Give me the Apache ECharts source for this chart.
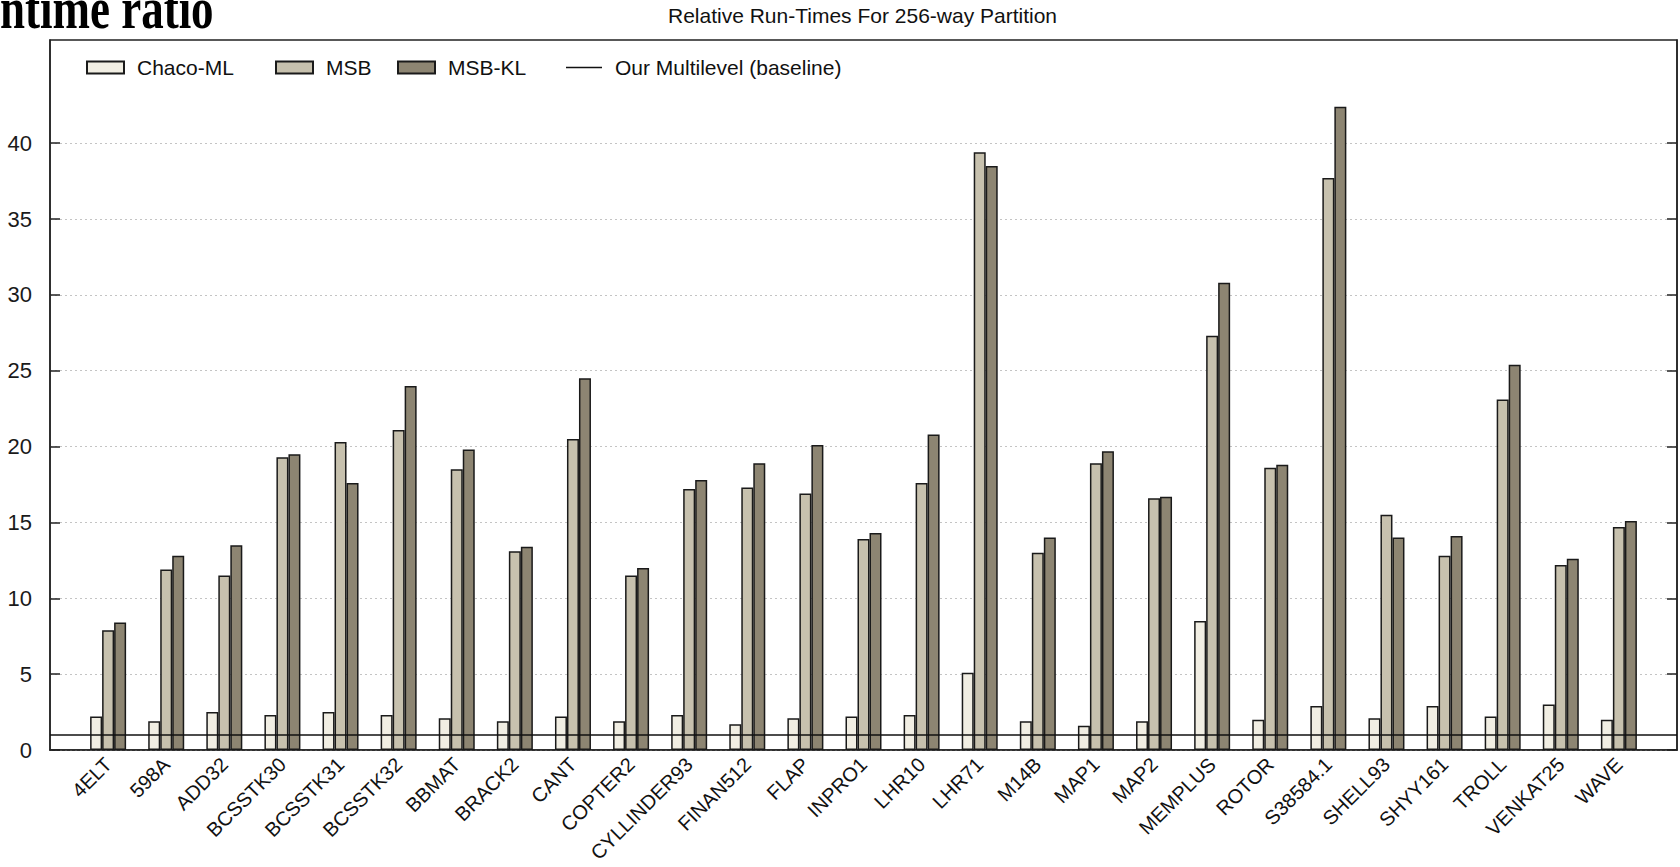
<!DOCTYPE html>
<html>
<head>
<meta charset="utf-8">
<script src="https://cdn.jsdelivr.net/npm/echarts@6/dist/echarts.min.js"></script>
<style>
  html, body { margin: 0; padding: 0; background: #fff; }
  #myChart { width: 1680px; height: 867px; }
</style>
</head>
<body>
<div id="myChart"></div>
<script>
// Datas
const categories = ['4ELT', '598A', 'ADD32', 'BCSSTK30', 'BCSSTK31', 'BCSSTK32', 'BBMAT', 'BRACK2', 'CANT',
  'COPTER2', 'CYLLINDER93', 'FINAN512', 'FLAP', 'INPRO1', 'LHR10', 'LHR71', 'M14B', 'MAP1', 'MAP2',
  'MEMPLUS', 'ROTOR', 'S38584.1', 'SHELL93', 'SHYY161', 'TROLL', 'VENKAT25', 'WAVE']
const chacoML = [2.2, 1.9, 2.5, 2.3, 2.5, 2.3, 2.1, 1.9, 2.2, 1.9, 2.3, 1.7, 2.1, 2.2, 2.3, 5.1, 1.9, 1.6, 1.9,
  8.5, 2.0, 2.9, 2.1, 2.9, 2.2, 3.0, 2.0]
const msb = [7.9, 11.9, 11.5, 19.3, 20.3, 21.1, 18.5, 13.1, 20.5, 11.5, 17.2, 17.3, 16.9, 13.9, 17.6, 39.4, 13.0,
  18.9, 16.6, 27.3, 18.6, 37.7, 15.5, 12.8, 23.1, 12.2, 14.7]
const msbKL = [8.4, 12.8, 13.5, 19.5, 17.6, 24.0, 19.8, 13.4, 24.5, 12.0, 17.8, 18.9, 20.1, 14.3, 20.8, 38.5, 14.0,
  19.7, 16.7, 30.8, 18.8, 42.4, 14.0, 14.1, 25.4, 12.6, 15.1]
const baseline = 1
const yTicks = [0, 5, 10, 15, 20, 25, 30, 35, 40]

// one empty slot on each side, like the original x range
const pad = arr => ['-'].concat(arr, ['-'])
const font = '"Liberation Sans", Arial, sans-serif'
const gridColors = yTicks.map(() => '#c4c4c4').concat(['rgba(0,0,0,0)', 'rgba(0,0,0,0)'])

const chart = echarts.init(document.getElementById('myChart'), null, { renderer: 'svg' })

const legendBase = {
  orient: 'horizontal',
  top: 57,
  padding: 0,
  itemWidth: 37,
  itemHeight: 12,
  textStyle: { fontFamily: font, fontSize: 21, color: '#111', padding: [0, 0, 0, 8] },
  selectedMode: false,
}

const barSeries = (name, data, color) => ({
  name,
  type: 'bar',
  barWidth: 12,
  barGap: '0%',
  itemStyle: { color, borderColor: '#1a1a1a', borderWidth: 1.5 },
  data: pad(data),
})

chart.setOption({
  animation: false,
  title: {
    text: 'Relative Run-Times For 256-way Partition',
    left: 668,
    top: 5,
    padding: 0,
    textStyle: { fontFamily: font, fontSize: 21, fontWeight: 'normal', color: '#111' },
  },
  graphic: [{
    // page heading, cut off at the top edge like the source picture
    type: 'text',
    x: 0,
    y: 8.5,
    scaleY: 1.3,
    style: {
      text: 'ntime ratio',
      font: 'bold 45px "Liberation Serif", "Times New Roman", serif',
      fill: '#000',
      verticalAlign: 'middle',
    },
  }],
  legend: [
    Object.assign({}, legendBase, { left: 86, data: [{ name: 'Chaco-ML', icon: 'rect' }] }),
    Object.assign({}, legendBase, { left: 275, data: [{ name: 'MSB', icon: 'rect' }] }),
    Object.assign({}, legendBase, { left: 397, data: [{ name: 'MSB-KL', icon: 'rect' }] }),
    Object.assign({}, legendBase, {
      left: 566,
      itemWidth: 36,
      data: [{ name: 'Our Multilevel (baseline)', icon: 'path://M0,0H72V3H0Z', itemStyle: { color: '#111' } }],
    }),
  ],
  grid: {
    left: 50,
    right: 3,
    top: 40,
    bottom: 117,
    outerBoundsMode: 'none',
    containLabel: false,
    show: true,
    borderColor: '#222',
    borderWidth: 1.5,
  },
  xAxis: {
    type: 'category',
    data: [''].concat(categories, ['']),
    boundaryGap: false,
    axisLine: { show: true, lineStyle: { color: '#222', width: 1.5 } },
    axisTick: { show: false },
    splitLine: { show: false },
    axisLabel: {
      interval: 0,
      rotate: 45,
      margin: 11,
      fontFamily: font,
      fontSize: 20,
      color: '#111',
    },
  },
  yAxis: [{
    type: 'value',
    min: 0,
    max: 46.8,
    interval: 5,
    axisLine: { show: true, lineStyle: { color: '#222', width: 1.5 } },
    axisTick: { show: true, inside: true, length: 10, customValues: yTicks, lineStyle: { color: '#222', width: 1.5 } },
    axisLabel: { customValues: yTicks, margin: 18, fontFamily: font, fontSize: 22, color: '#1a1a1a' },
    splitLine: { show: true, lineStyle: { type: [2, 3], color: gridColors, width: 1 } },
  }, {
    type: 'value',
    position: 'right',
    min: 0,
    max: 46.8,
    interval: 5,
    axisLine: { show: true, lineStyle: { color: '#222', width: 1.5 } },
    axisTick: { show: true, inside: true, length: 10, customValues: yTicks, lineStyle: { color: '#222', width: 1.5 } },
    axisLabel: { show: false },
    splitLine: { show: false },
  }],
  series: [
    barSeries('Chaco-ML', chacoML, '#f1eee3'),
    barSeries('MSB', msb, '#c7c1ae'),
    barSeries('MSB-KL', msbKL, '#8d8572'),
    {
      name: 'Our Multilevel (baseline)',
      type: 'line',
      symbol: 'none',
      lineStyle: { color: '#111', width: 1.5 },
      itemStyle: { color: '#111' },
      data: [],
      markLine: {
        silent: true,
        symbol: ['none', 'none'],
        label: { show: false },
        lineStyle: { color: '#111', width: 1.5, type: 'solid' },
        data: [{ yAxis: baseline }],
      },
    },
  ],
})
</script>
</body>
</html>
